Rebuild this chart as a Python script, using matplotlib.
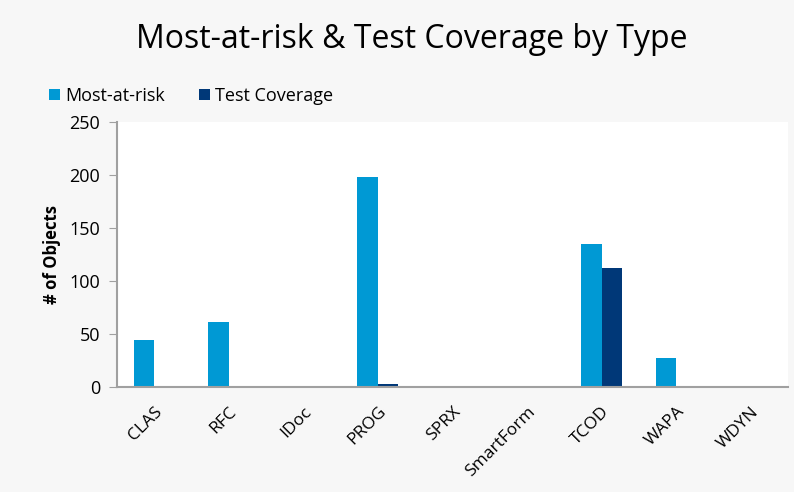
import numpy as np
import matplotlib
matplotlib.use('Agg')
import matplotlib.pyplot as plt

types = ['CLAS', 'RFC', 'IDoc', 'PROG', 'SPRX', 'SmartForm', 'TCOD', 'WAPA', 'WDYN']
most_at_risk = [44, 61, 0, 198, 0, 0, 135, 27, 0]
test_coverage = [0, 0, 0, 3, 0, 0, 112, 0, 0]

plt.rcParams['font.family'] = ['Open Sans', 'DejaVu Sans']

fig = plt.figure(figsize=(7.94, 4.92), dpi=100, facecolor='#f7f7f7')
ax = fig.add_axes([0.1474, 0.2134, 0.845, 0.5386])
ax.set_facecolor('white')

x = np.arange(len(types))
w = 0.275
ax.bar(x - w / 2, most_at_risk, w, color='#0099d4', label='Most-at-risk')
ax.bar(x + w / 2, test_coverage, w, color='#003878', label='Test Coverage')

ax.set_xlim(-0.5, len(types) - 0.5)
ax.set_ylim(0, 250)
ax.set_yticks([0, 50, 100, 150, 200, 250])
ax.set_xticks(x)
ax.set_xticklabels(types, rotation=45, ha='right', rotation_mode='anchor', fontsize=12.5)
ax.tick_params(axis='y', labelsize=13, length=6, color='#a0a0a0', pad=6)
ax.tick_params(axis='x', length=0, pad=12)

for s in ['top', 'right']:
    ax.spines[s].set_visible(False)
for s in ['left', 'bottom']:
    ax.spines[s].set_color('#a0a0a0')
    ax.spines[s].set_linewidth(1.5)

ax.set_ylabel('# of Objects', fontsize=12, fontweight='bold', labelpad=6)

fig.text(0.519, 0.92, 'Most-at-risk & Test Coverage by Type', ha='center', va='center', fontsize=23)

fig.legend(loc='upper left', bbox_to_anchor=(0.05, 0.842), ncol=2, frameon=False, fontsize=13,
           handlelength=0.6, handleheight=0.6, handletextpad=0.3, columnspacing=1.9, borderpad=0)

plt.savefig('out.png', dpi=100, facecolor=fig.get_facecolor())
plt.close()
